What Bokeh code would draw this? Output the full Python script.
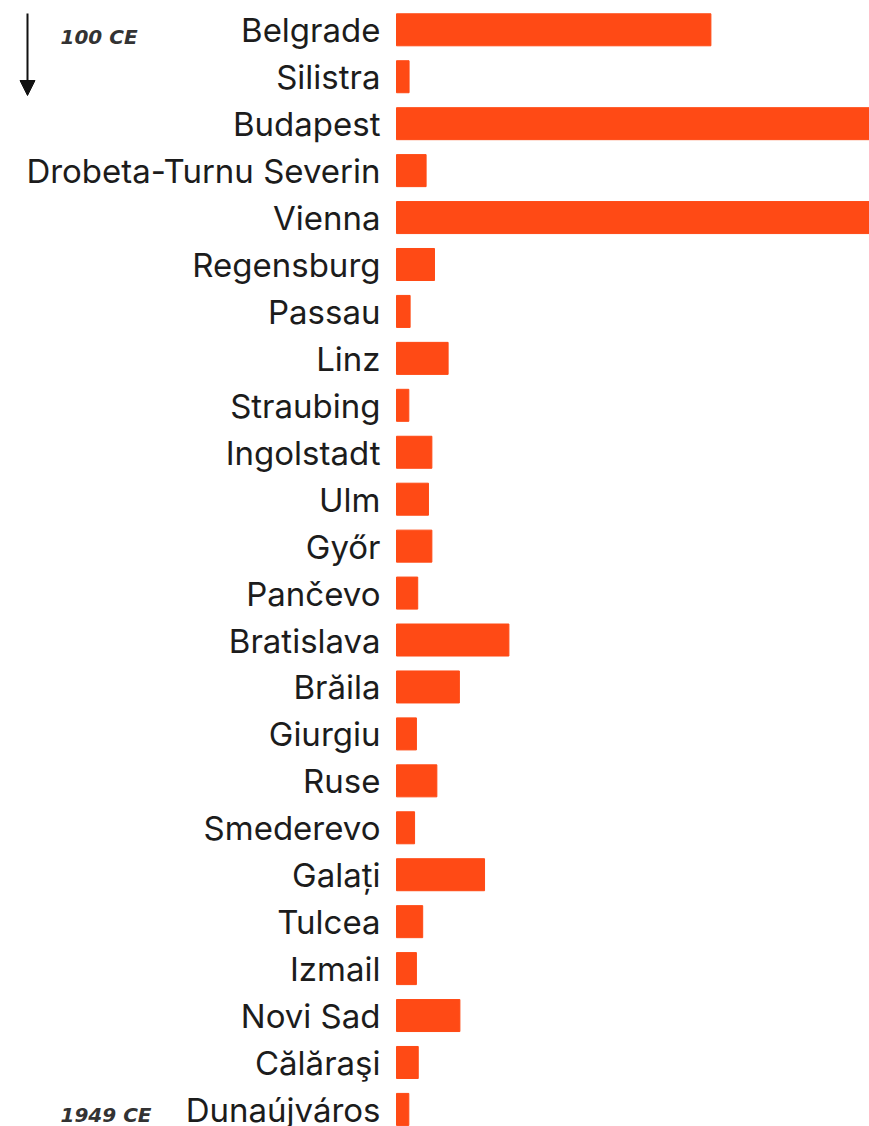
from bokeh.plotting import figure
from bokeh.models import Range1d, ColumnDataSource, Arrow, NormalHead, Label
from bokeh.core.properties import value
from bokeh.embed import file_html
from bokeh.resources import INLINE

# ---- data (order top to bottom: from 100 CE to 1949 CE) ----
cities = ["Belgrade", "Silistra", "Budapest", "Drobeta-Turnu Severin", "Vienna",
          "Regensburg", "Passau", "Linz", "Straubing", "Ingolstadt", "Ulm", "Győr",
          "Pančevo", "Bratislava", "Brăila", "Giurgiu", "Ruse", "Smederevo", "Galați",
          "Tulcea", "Izmail", "Novi Sad", "Călăraşi", "Dunaújváros"]
population_k = [1200, 48, 1850, 113, 1900,
                145, 52, 197, 47, 135, 122, 135,
                81, 429, 240, 76, 154, 69, 336,
                100, 76, 242, 83, 47]
start_label = "100 CE"
end_label = "1949 CE"

# ---- layout ----
W, H = 869, 1126
X0_PX = 396          # pixel where bars start
PX_PER_UNIT = 0.262  # pixels per thousand
ROW_PX = 46.94
TOP_PAD_ROWS = 29.3 / ROW_PX
n = len(cities)

x_start = -X0_PX / PX_PER_UNIT
x_end = (W - X0_PX) / PX_PER_UNIT
y_top = -TOP_PAD_ROWS
y_bottom = y_top + H / ROW_PX

def px_x(px):
    return x_start + px / PX_PER_UNIT

def px_y(py):
    return y_top + py / ROW_PX

p = figure(width=W, height=H, output_backend="svg", toolbar_location=None,
           x_range=Range1d(x_start, x_end), y_range=Range1d(y_bottom, y_top),
           x_axis_type=None, y_axis_type=None, min_border=0)
p.outline_line_color = None
p.grid.visible = False
p.background_fill_color = "white"
p.border_fill_color = "white"

src = ColumnDataSource(dict(y=list(range(n)), city=cities, v=population_k))
p.hbar(y="y", left=0, right="v", height=0.682, color="#FF4A15", source=src)
p.text(x=0, y="y", text="city", source=src, x_offset=-16, y_offset=0.5,
       text_align="right", text_baseline="middle", text_font=value("Inter"),
       text_font_size="33px", text_color="#1c1c1c")

arrow_x = px_x(27)
p.add_layout(Arrow(end=NormalHead(size=15, fill_color="#111111", line_color="#111111"),
                   x_start=arrow_x, y_start=px_y(13), x_end=arrow_x, y_end=px_y(95),
                   line_width=2, line_color="#111111"))

for txt, py in [(start_label, 36.8), (end_label, 1114.7)]:
    p.add_layout(Label(x=px_x(60), y=px_y(py), text=txt, text_align="left",
                       text_baseline="middle", text_font="DejaVu Sans",
                       text_font_style="bold italic", text_font_size="20px",
                       text_color="#333333"))

open("out.html", "w").write(file_html(p, INLINE))
